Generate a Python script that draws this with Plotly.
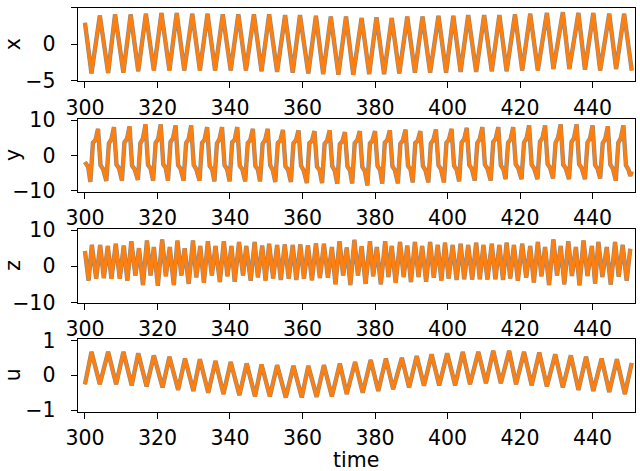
import plotly.graph_objects as go

W, H = 640, 471

# ---------------- data ----------------
x_t = [300.0, 301.8, 304.1, 306.4, 308.3, 310.6, 312.6, 314.7, 316.8, 319.0, 321.1, 323.3, 325.3, 327.4, 329.6,
       331.7, 333.8, 335.9, 338.0, 340.2, 342.3, 344.4, 346.6, 348.7, 350.8, 353.0, 355.2, 357.3, 359.3,
       361.6, 363.7, 365.7, 367.8, 369.9, 372.0, 374.0, 376.3, 378.4, 380.4, 382.5, 384.6, 386.7, 388.9,
       391.0, 393.1, 395.2, 397.5, 399.6, 401.6, 403.6, 405.7, 407.9, 410.1, 412.2, 414.3, 416.3, 418.6,
       420.6, 422.8, 424.9, 427.4, 429.2, 431.8, 433.6, 436.1, 437.9, 440.2, 442.1, 444.6, 446.5, 448.7, 450.8]
x_v = [2.95, -4.0, 3.95, -3.95, 4.1, -3.9, 4.1, -3.7, 4.2, -3.6, 4.3, -3.6, 4.3, -3.6, 4.2,
       -3.6, 4.2, -3.6, 4.1, -3.6, 4.1, -3.6, 4.1, -3.7, 4.1, -3.8, 4.0, -3.9, 4.0,
       -4.0, 3.9, -4.1, 3.8, -4.2, 3.8, -4.2, 3.6, -4.1, 3.7, -4.1, 3.6, -4.0, 3.8,
       -3.9, 3.8, -3.9, 3.9, -3.9, 3.9, -3.8, 4.0, -3.8, 4.0, -3.7, 4.0, -3.7, 4.1,
       -3.6, 4.2, -3.6, 4.3, -3.4, 4.4, -3.4, 4.3, -3.5, 4.3, -3.6, 4.2, -3.4, 4.2, -3.6]

y_edge_t = [300.0, 300.9, 450.8]
y_edge_v = [-1.9, -3.3, -4.5]
y_peak_t = [303.6, 308.0, 312.3, 316.7, 320.9, 325.0, 329.3, 333.7, 337.8, 342.0, 346.3, 350.4, 354.6,
            358.9, 363.3, 367.5, 371.7, 375.8, 380.0, 384.1, 388.4, 392.5, 396.8, 401.1, 405.3, 409.6,
            414.0, 418.1, 422.5, 426.9, 431.2, 435.6, 440.0, 444.2, 448.5]
y_peak_v = [7.5, 8.0, 8.2, 8.8, 8.8, 8.5, 8.5, 8.0, 8.0, 8.0, 7.5, 7.5, 7.2, 7.1, 6.9, 7.1, 6.6, 6.9,
            6.9, 7.1, 7.3, 6.9, 7.3, 7.5, 7.8, 8.0, 8.0, 8.0, 8.5, 8.5, 8.8, 8.8, 8.5, 8.2, 8.5]
y_trough_t = [301.5, 305.9, 310.2, 314.6, 318.8, 322.9, 327.2, 331.6, 335.7, 339.9, 344.2, 348.3, 352.5,
              356.8, 361.2, 365.4, 369.6, 373.7, 377.9, 382.0, 386.3, 390.4, 394.7, 399.0, 403.2, 407.5,
              411.9, 416.0, 420.4, 424.8, 429.1, 433.5, 437.9, 442.1, 446.4, 450.4]
y_trough_v = [-7.5, -7.2, -7.1, -6.9, -7.1, -7.1, -7.1, -7.1, -7.3, -7.3, -7.3, -7.3, -7.5, -7.5, -7.8,
              -7.8, -8.0, -7.9, -8.5, -8.0, -7.9, -7.6, -7.6, -7.6, -7.3, -7.1, -7.1, -6.7, -6.7, -6.7,
              -6.5, -6.7, -6.7, -6.5, -7.1, -5.8]
y_rise1_t = [302.2, 306.6, 310.9, 315.3, 319.5, 323.6, 327.9, 332.3, 336.4, 340.6, 344.9, 349.0, 353.2,
             357.5, 361.9, 366.1, 370.3, 374.4, 378.6, 382.7, 387.0, 391.1, 395.4, 399.7, 403.9, 408.2,
             412.6, 416.7, 421.1, 425.5, 429.8, 434.2, 438.6, 442.8, 447.1]
y_rise1_v = [3.6, 3.4, 3.7, 3.5, 3.6, 3.8, 3.5, 3.6, 3.4, 3.7, 3.5, 3.3, 3.6, 3.4, 3.5, 3.3, 3.2, 3.5,
             3.4, 3.6, 3.3, 3.5, 3.4, 3.6, 3.7, 3.5, 3.8, 3.6, 3.7, 3.9, 3.6, 3.8, 3.7, 3.5, 3.6]
y_rise2_t = [302.9, 307.3, 311.6, 316.0, 320.2, 324.3, 328.6, 333.0, 337.1, 341.3, 345.6, 349.7, 353.9,
             358.2, 362.6, 366.8, 371.0, 375.1, 379.3, 383.4, 387.7, 391.8, 396.1, 400.4, 404.6, 408.9,
             413.3, 417.4, 421.8, 426.2, 430.5, 434.9, 439.3, 443.5, 447.8]
y_rise2_v = [4.4, 4.6, 4.7, 4.8, 4.7, 4.9, 4.6, 4.5, 4.6, 4.4, 4.3, 4.4, 4.2, 4.3, 4.1, 4.2, 4.0, 4.3,
             4.2, 4.4, 4.3, 4.2, 4.4, 4.5, 4.6, 4.7, 4.8, 4.6, 4.9, 5.0, 5.1, 5.0, 4.8, 4.7, 4.9]
y_fall1_t = [304.3, 308.7, 313.0, 317.4, 321.6, 325.7, 330.0, 334.4, 338.5, 342.7, 347.0, 351.1, 355.3,
             359.6, 364.0, 368.2, 372.4, 376.5, 380.7, 384.8, 389.1, 393.2, 397.5, 401.8, 406.0, 410.3,
             414.7, 418.8, 423.2, 427.6, 431.9, 436.3, 440.7, 444.9, 449.2]
y_fall1_v = [-2.8, -2.6, -2.9, -2.7, -2.5, -2.8, -2.7, -3.0, -2.8, -2.9, -3.0, -2.8, -3.1, -2.9, -3.2,
             -3.0, -3.1, -3.3, -3.0, -3.1, -2.9, -3.0, -2.8, -2.9, -2.7, -2.6, -2.8, -2.5, -2.6, -2.4,
             -2.6, -2.5, -2.7, -2.6, -2.8]
y_fall2_t = [305.0, 309.4, 313.7, 318.1, 322.3, 326.4, 330.7, 335.1, 339.2, 343.4, 347.7, 351.8, 356.0,
             360.3, 364.7, 368.9, 373.1, 377.2, 381.4, 385.5, 389.8, 393.9, 398.2, 402.5, 406.7, 411.0,
             415.4, 419.5, 423.9, 428.3, 432.6, 437.0, 441.4, 445.6, 449.9]
y_fall2_v = [-3.8, -3.6, -3.9, -3.7, -3.6, -3.8, -3.9, -4.0, -3.8, -3.9, -4.0, -4.1, -4.0, -4.2, -4.1,
             -4.3, -4.2, -4.4, -4.1, -4.2, -4.0, -4.1, -3.9, -4.0, -3.8, -3.7, -3.9, -3.6, -3.7, -3.5,
             -3.6, -3.6, -3.8, -3.7, -4.0]

z_edge_t = [300.0, 450.4]
z_edge_v = [4.2, 4.8]
z_peak_t = [301.9, 304.2, 306.3, 308.5, 310.7, 312.8, 314.9, 317.1, 319.0, 321.3, 323.4, 325.5, 327.5,
            329.8, 331.8, 333.9, 336.0, 338.3, 340.4, 342.5, 344.5, 346.8, 348.9, 350.8, 353.0, 355.1,
            357.3, 359.4, 361.5, 363.7, 365.9, 368.1, 370.2, 372.2, 374.3, 376.3, 378.6, 380.5, 382.8,
            384.6, 386.9, 388.9, 391.0, 393.0, 395.2, 397.3, 399.3, 401.4, 403.6, 405.7, 407.9, 409.9,
            412.2, 414.3, 416.3, 418.3, 420.6, 422.8, 424.9, 426.9, 429.2, 431.2, 433.3, 435.4, 437.5,
            439.8, 441.6, 443.9, 446.2, 448.3]
z_peak_v = [5.9, 5.9, 5.6, 6.2, 5.7, 6.9, 5.0, 7.1, 5.3, 7.4, 5.3, 7.1, 5.0, 7.1, 5.6, 6.9, 5.6, 6.9,
            5.6, 6.7, 5.6, 6.7, 5.7, 6.2, 5.9, 6.0, 5.9, 6.0, 5.8, 6.3, 6.2, 5.3, 6.9, 5.2, 7.3, 5.5,
            6.9, 5.3, 6.9, 5.6, 6.7, 5.7, 6.7, 5.6, 6.7, 5.9, 6.5, 5.9, 6.2, 5.9, 6.5, 5.9, 6.2, 5.9,
            6.5, 5.9, 6.2, 5.6, 6.7, 5.3, 7.4, 5.6, 6.9, 5.3, 7.1, 5.6, 6.7, 5.3, 6.7, 5.9]
z_trough_t = [301.0, 303.1, 305.2, 307.3, 309.6, 311.7, 313.9, 316.0, 318.1, 320.1, 322.3, 324.5, 326.6,
              328.6, 330.7, 332.8, 335.0, 337.2, 339.3, 341.3, 343.6, 345.7, 347.7, 349.8, 351.9, 354.0,
              356.2, 358.3, 360.4, 362.6, 364.8, 367.0, 369.1, 371.2, 373.2, 375.3, 377.4, 379.5, 381.6,
              383.7, 385.7, 387.9, 389.9, 392.0, 394.1, 396.2, 398.3, 400.3, 402.5, 404.6, 406.8, 408.9,
              411.0, 413.2, 415.3, 417.3, 419.4, 421.7, 423.8, 425.9, 428.0, 430.2, 432.2, 434.3, 436.4,
              438.6, 440.7, 442.7, 445.0, 447.2, 449.4]
z_trough_v = [-4.0, -3.5, -3.3, -3.5, -3.5, -4.0, -2.6, -5.2, -2.6, -5.4, -2.8, -5.2, -2.6, -4.9, -3.1,
              -4.6, -2.6, -4.4, -2.8, -4.3, -2.6, -4.0, -3.1, -4.0, -3.4, -3.8, -3.5, -3.8, -3.5, -3.9,
              -3.3, -3.2, -5.0, -2.6, -5.2, -2.6, -4.9, -2.8, -5.0, -3.0, -4.6, -3.0, -4.4, -3.0, -4.3,
              -3.2, -4.0, -3.4, -3.8, -3.6, -3.7, -3.6, -3.7, -3.6, -3.8, -3.4, -4.0, -3.2, -4.5, -2.8,
              -5.2, -2.6, -5.0, -2.7, -5.3, -2.7, -4.8, -3.0, -5.1, -2.9, -4.0]

u_t = [300.0, 301.8, 304.1, 306.4, 308.6, 310.6, 312.9, 314.7, 317.0, 319.0, 321.4, 323.3, 325.7, 327.6,
       329.9, 331.7, 334.0, 336.0, 338.2, 340.2, 342.6, 344.6, 346.9, 348.7, 351.0, 353.0, 355.4, 357.5,
       359.8, 361.6, 363.9, 365.9, 368.1, 370.3, 372.2, 374.5, 376.6, 378.8, 380.9, 383.0, 385.0, 387.4,
       389.4, 391.5, 393.5, 395.6, 397.7, 399.9, 402.1, 404.2, 406.2, 408.5, 410.6, 412.6, 414.7, 417.0,
       418.9, 421.1, 423.2, 425.3, 427.4, 429.7, 431.8, 434.0, 436.1, 438.2, 440.2, 442.5, 444.6, 446.7,
       448.9, 450.8]
u_v = [-0.26, 0.67, -0.26, 0.67, -0.26, 0.67, -0.29, 0.63, -0.32, 0.57, -0.35, 0.53, -0.42, 0.48,
       -0.45, 0.46, -0.50, 0.41, -0.54, 0.38, -0.57, 0.34, -0.61, 0.31, -0.61, 0.29, -0.64, 0.27,
       -0.64, 0.27, -0.62, 0.29, -0.61, 0.34, -0.54, 0.38, -0.50, 0.44, -0.45, 0.48, -0.40, 0.50,
       -0.35, 0.55, -0.30, 0.60, -0.29, 0.63, -0.29, 0.67, -0.26, 0.67, -0.23, 0.70, -0.23, 0.70,
       -0.26, 0.67, -0.29, 0.65, -0.32, 0.60, -0.35, 0.57, -0.42, 0.53, -0.45, 0.48, -0.48, 0.46,
       -0.54, 0.35]

time_ticks = [300, 320, 340, 360, 380, 400, 420, 440]
panel_names = ["x", "y", "z", "u"]
panel_ticks = [[-5, 0, 5], [-10, 0, 10], [-10, 0, 10], [-1, 0, 1]]
panel_ranges = [[-5.05, 5.05], [-10.2, 10.45], [-10.05, 10.3], [-1.04, 1.04]]


def merge(*pairs):
    pts = []
    for ts, vs in pairs:
        pts.extend(zip(ts, vs))
    pts.sort()
    return [p[0] for p in pts], [p[1] for p in pts]


series = [
    (x_t, x_v),
    merge((y_edge_t, y_edge_v), (y_peak_t, y_peak_v), (y_trough_t, y_trough_v),
          (y_rise1_t, y_rise1_v), (y_rise2_t, y_rise2_v), (y_fall1_t, y_fall1_v),
          (y_fall2_t, y_fall2_v)),
    merge((z_edge_t, z_edge_v), (z_peak_t, z_peak_v), (z_trough_t, z_trough_v)),
    (u_t, u_v),
]

# ---------------- layout (page-pixel geometry) ----------------
left_px, right_px = 77.7, 635.0
panels_px = [(7.5, 81.0), (118.5, 191.5), (229.0, 302.5), (339.0, 411.5)]
FONT = "DejaVu Sans"
FS = 20.5


def fx(px):
    return min(1.0, max(0.0, px / W))


def fy(py):
    return min(1.0, max(0.0, 1 - py / H))


fig = go.Figure()
layout = dict(
    width=W, height=H,
    margin=dict(l=0, r=0, t=0, b=0, autoexpand=False),
    paper_bgcolor="white", plot_bgcolor="white",
    showlegend=False,
    font=dict(family=FONT, size=FS, color="black"),
)
annotations = []
for i, ((t, v), (top, bot)) in enumerate(zip(series, panels_px)):
    n = i + 1
    xa = "x" if n == 1 else f"x{n}"
    ya = "y" if n == 1 else f"y{n}"
    fig.add_trace(go.Scatter(x=t, y=v, mode="lines", xaxis=xa, yaxis=ya,
                             line=dict(color="#8a8a8a", width=4.4), hoverinfo="skip"))
    fig.add_trace(go.Scatter(x=t, y=v, mode="lines", xaxis=xa, yaxis=ya,
                             line=dict(color="#ff7f0e", width=3.2), hoverinfo="skip"))
    axis_common = dict(showline=True, mirror=True, linecolor="black", linewidth=1.3,
                       ticks="outside", ticklen=6, tickwidth=1.3, tickcolor="black",
                       showgrid=False, zeroline=False, automargin=False,
                       tickfont=dict(family=FONT, size=FS, color="black"))
    xkey = "xaxis" if n == 1 else f"xaxis{n}"
    ykey = "yaxis" if n == 1 else f"yaxis{n}"
    layout[xkey] = dict(axis_common, domain=[fx(left_px), fx(right_px)], anchor=ya,
                        range=[298.0, 451.7], tickvals=time_ticks, ticklabelstandoff=2)
    layout[ykey] = dict(axis_common, domain=[fy(bot), fy(top)], anchor=xa,
                        range=panel_ranges[i], tickvals=panel_ticks[i], ticklabelstandoff=11)
    annotations.append(dict(text=panel_names[i], x=0, y=fy((top + bot) / 2),
                            xref="paper", yref="paper", xanchor="left", yanchor="middle",
                            textangle=-90, showarrow=False, borderpad=0,
                            font=dict(family=FONT, size=FS)))

annotations.append(dict(text="time", x=fx((left_px + right_px) / 2), y=fy(460),
                        xref="paper", yref="paper", xanchor="center", yanchor="middle",
                        showarrow=False, font=dict(family=FONT, size=FS)))
layout["annotations"] = annotations
fig.update_layout(**layout)
# remove the browser's default 8px body margin so the figure sits at the page origin
fig.write_html("out.html", config={"displayModeBar": False},
               post_script="document.body.style.margin='0px';")
